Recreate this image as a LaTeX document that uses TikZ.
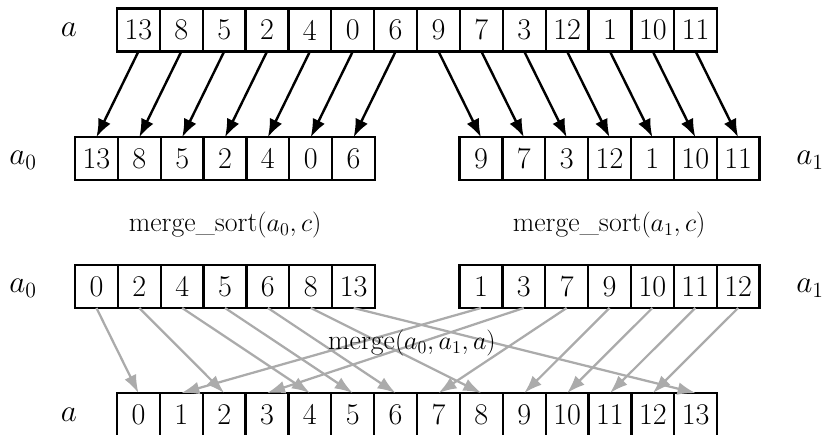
\documentclass[tikz,border=0pt]{standalone}
\usetikzlibrary{arrows.meta}
\newcommand\cellfont{\fontsize{20}{24}\selectfont}
\newcommand\lblfont{\fontsize{18.5}{22}\selectfont}
\newcommand\namefont{\fontsize{21.5}{25}\selectfont}
\begin{document}
\begin{tikzpicture}[x=1cm,y=1cm,
  cell/.style={draw,line width=1.5pt,minimum size=1cm,inner sep=0pt,outer sep=0pt,font=\cellfont},
  lbl/.style={font=\lblfont,inner sep=1pt},
  arrname/.style={font=\namefont,inner sep=1pt},
  splitarr/.style={-{Latex[length=12pt,width=9pt]},line width=1.6pt},
  mergearr/.style={-{Latex[length=12pt,width=8.5pt]},line width=1.5pt,draw=black!33,color=black!33}]
\useasboundingbox (0,0) rectangle (19.27,-10.126);
% top row a
\foreach \v [count=\i from 0] in {13,8,5,2,4,0,6,9,7,3,12,1,10,11}
  \node[cell] (t\i) at (3.23+\i,-0.70) {\v};
% a0 unsorted
\foreach \v [count=\i from 0] in {13,8,5,2,4,0,6}
  \node[cell] (u0\i) at (2.25+\i,-3.70) {\v};
% a1 unsorted
\foreach \v [count=\i from 0] in {9,7,3,12,1,10,11}
  \node[cell] (u1\i) at (11.22+\i,-3.70) {\v};
% a0 sorted
\foreach \v [count=\i from 0] in {0,2,4,5,6,8,13}
  \node[cell] (s0\i) at (2.25+\i,-6.685) {\v};
% a1 sorted
\foreach \v [count=\i from 0] in {1,3,7,9,10,11,12}
  \node[cell] (s1\i) at (11.22+\i,-6.685) {\v};
% bottom row a
\foreach \i in {0,...,13}
  \node[cell] (b\i) at (3.23+\i,-9.67) {\i};
% labels
\node[arrname] (la) at (1.61,-0.70) {$a$};
\node[arrname] (la0) at (0.54,-3.74) {$a_0$};
\node[arrname] (la1) at (18.9,-3.74) {$a_1$};
\node[arrname] (lsa0) at (0.54,-6.72) {$a_0$};
\node[arrname] (lsa1) at (18.9,-6.72) {$a_1$};
\node[arrname] (lb) at (1.61,-9.67) {$a$};
\node[lbl] (ms0) at (5.25,-5.25) {merge\_sort$(a_0,c)$};
\node[lbl] (ms1) at (14.21,-5.25) {merge\_sort$(a_1,c)$};
% split arrows
\foreach \i in {0,...,6}
  \draw[splitarr] (t\i.south) -- (u0\i.north);
\foreach \j [evaluate=\j as \k using int(\j+7)] in {0,...,6}
  \draw[splitarr] (t\k.south) -- (u1\j.north);
% merge arrows
\foreach \v [count=\i from 0] in {0,2,4,5,6,8,13}
  \draw[mergearr] (s0\i.south) -- (b\v.north);
\foreach \v [count=\i from 0] in {1,3,7,9,10,11,12}
  \draw[mergearr] (s1\i.south) -- (b\v.north);
\node[lbl] (mg) at (9.61,-8.0) {merge$(a_0,a_1,a)$};
\end{tikzpicture}
\end{document}
